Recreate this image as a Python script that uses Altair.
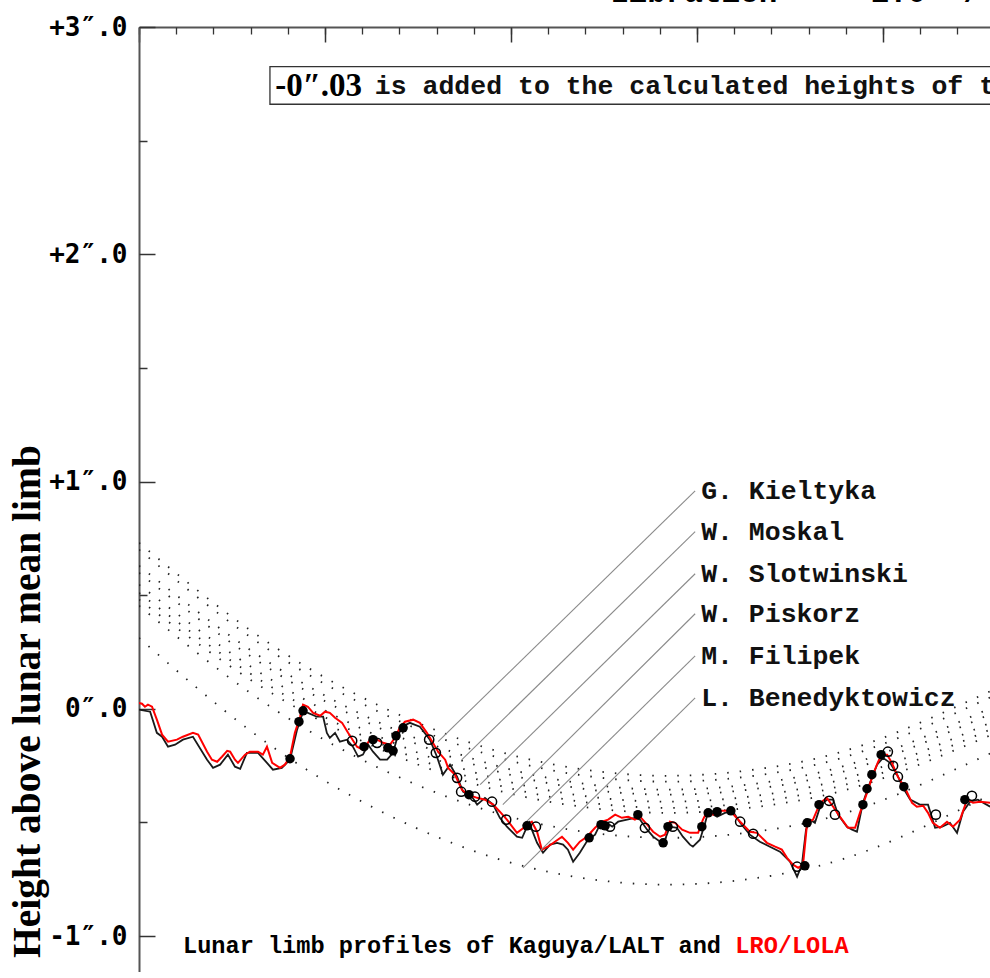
import altair as alt
import pandas as pd

# ---------------------------------------------------------------
# Graze profile: height above the lunar mean limb (arcsec) against
# position along the limb (top-axis minor tick = 1 unit).
# ---------------------------------------------------------------

# Kaguya / LALT limb profile (x, height)
kaguya = [
    (0.00, -0.004), (0.30, -0.013), (0.48, -0.106), (0.62, -0.123), (0.78, -0.167),
    (0.97, -0.158), (1.18, -0.136), (1.45, -0.123), (1.83, -0.224), (1.99, -0.260),
    (2.18, -0.246), (2.39, -0.202), (2.58, -0.255), (2.72, -0.264), (2.90, -0.194),
    (3.04, -0.194), (3.20, -0.194), (3.44, -0.238), (3.60, -0.268), (3.84, -0.260),
    (4.06, -0.224), (4.25, -0.092), (4.41, -0.013), (4.54, -0.018), (4.78, -0.035),
    (4.95, -0.035), (5.05, -0.106), (5.13, -0.128), (5.27, -0.106), (5.40, -0.145),
    (5.59, -0.136), (5.75, -0.167), (5.89, -0.211), (6.02, -0.202), (6.16, -0.158),
    (6.29, -0.189), (6.48, -0.224), (6.67, -0.224), (6.83, -0.194), (6.94, -0.128),
    (7.07, -0.079), (7.28, -0.062), (7.55, -0.079), (7.82, -0.136), (8.01, -0.211),
    (8.17, -0.290), (8.36, -0.246), (8.55, -0.299), (8.71, -0.365), (8.95, -0.387),
    (9.09, -0.422), (9.30, -0.392), (9.52, -0.422), (9.70, -0.480), (9.89, -0.519),
    (10.16, -0.563), (10.30, -0.568), (10.43, -0.519), (10.56, -0.532), (10.70, -0.590),
    (10.86, -0.634), (11.05, -0.598), (11.24, -0.590), (11.40, -0.598), (11.53, -0.620),
    (11.67, -0.673), (11.85, -0.634), (12.07, -0.576), (12.26, -0.554), (12.39, -0.510),
    (12.58, -0.502), (12.72, -0.519), (12.88, -0.497), (13.12, -0.488), (13.33, -0.480),
    (13.47, -0.488), (13.66, -0.532), (13.82, -0.563), (14.01, -0.585), (14.14, -0.576),
    (14.27, -0.519), (14.46, -0.524), (14.62, -0.563), (14.81, -0.598), (14.89, -0.607),
    (15.08, -0.576), (15.22, -0.502), (15.30, -0.453), (15.54, -0.475), (15.75, -0.458),
    (15.97, -0.453), (16.16, -0.502), (16.42, -0.554), (16.69, -0.585), (16.96, -0.607),
    (17.23, -0.629), (17.50, -0.673), (17.69, -0.739), (17.82, -0.686), (17.93, -0.532),
    (18.04, -0.488), (18.17, -0.502), (18.31, -0.431), (18.49, -0.400), (18.66, -0.400),
    (18.79, -0.466), (19.03, -0.519), (19.17, -0.532), (19.30, -0.541), (19.46, -0.414),
    (19.65, -0.326), (19.84, -0.246), (20.00, -0.216), (20.19, -0.238), (20.38, -0.290),
    (20.54, -0.348), (20.73, -0.400), (20.99, -0.422), (21.21, -0.422), (21.40, -0.524),
    (21.59, -0.519), (21.80, -0.502), (21.99, -0.546), (22.15, -0.453), (22.34, -0.409),
    (22.55, -0.400), (22.88, -0.431),
]

# LRO / LOLA limb profile (x, height)
lola = [
    (0.00, 0.026), (0.08, 0.022), (0.16, 0.009), (0.24, 0.018), (0.35, 0.009),
    (0.48, -0.048), (0.62, -0.114), (0.78, -0.145), (1.02, -0.136), (1.18, -0.123),
    (1.45, -0.106), (1.59, -0.114), (1.83, -0.189), (1.96, -0.224), (2.10, -0.233),
    (2.23, -0.211), (2.37, -0.185), (2.45, -0.189), (2.58, -0.224), (2.66, -0.238),
    (2.85, -0.202), (2.98, -0.189), (3.20, -0.189), (3.33, -0.202), (3.44, -0.167),
    (3.58, -0.238), (3.79, -0.260), (3.92, -0.246), (4.06, -0.211), (4.19, -0.106),
    (4.33, -0.035), (4.41, 0.018), (4.54, 0.009), (4.68, -0.018), (4.87, -0.031),
    (5.00, -0.013), (5.13, -0.018), (5.27, -0.040), (5.46, -0.062), (5.62, -0.106),
    (5.86, -0.167), (6.02, -0.180), (6.21, -0.136), (6.40, -0.136), (6.56, -0.150),
    (6.75, -0.158), (6.88, -0.128), (7.02, -0.079), (7.15, -0.057), (7.37, -0.048),
    (7.55, -0.062), (7.74, -0.106), (7.90, -0.150), (8.04, -0.189), (8.23, -0.224),
    (8.31, -0.260), (8.49, -0.290), (8.68, -0.356), (8.84, -0.378), (9.09, -0.392),
    (9.30, -0.400), (9.52, -0.422), (9.70, -0.453), (9.89, -0.488), (10.16, -0.546),
    (10.38, -0.519), (10.56, -0.497), (10.70, -0.541), (10.83, -0.620), (10.99, -0.607),
    (11.18, -0.585), (11.37, -0.563), (11.53, -0.590), (11.67, -0.620), (11.85, -0.585),
    (12.04, -0.563), (12.26, -0.524), (12.45, -0.497), (12.61, -0.488), (12.80, -0.466),
    (12.98, -0.480), (13.15, -0.475), (13.33, -0.488), (13.47, -0.475), (13.66, -0.510),
    (13.82, -0.541), (14.01, -0.563), (14.14, -0.554), (14.27, -0.497), (14.41, -0.502),
    (14.60, -0.532), (14.81, -0.546), (15.03, -0.546), (15.16, -0.488), (15.27, -0.453),
    (15.43, -0.466), (15.62, -0.449), (15.89, -0.449), (16.16, -0.497), (16.42, -0.541),
    (16.61, -0.546), (16.88, -0.590), (17.10, -0.607), (17.28, -0.620), (17.42, -0.656),
    (17.58, -0.686), (17.72, -0.700), (17.85, -0.686), (17.96, -0.502), (18.12, -0.488),
    (18.31, -0.414), (18.49, -0.392), (18.66, -0.431), (18.84, -0.475), (19.06, -0.524),
    (19.25, -0.524), (19.38, -0.458), (19.57, -0.370), (19.73, -0.290), (19.87, -0.233),
    (19.97, -0.202), (20.11, -0.202), (20.24, -0.238), (20.40, -0.299), (20.59, -0.348),
    (20.78, -0.414), (20.91, -0.431), (21.08, -0.427), (21.21, -0.458), (21.34, -0.502),
    (21.53, -0.524), (21.72, -0.497), (21.88, -0.519), (22.07, -0.488), (22.26, -0.400),
    (22.42, -0.414), (22.61, -0.409), (22.88, -0.414),
]

# Observed events: disappearances (filled) and reappearances (open)
disappear = [
    (4.06, -0.220), (4.30, -0.057), (4.41, -0.009), (6.05, -0.167), (6.29, -0.136),
    (6.69, -0.172), (6.83, -0.185), (6.91, -0.119), (7.10, -0.084), (8.87, -0.378),
    (10.43, -0.515), (12.10, -0.568), (12.42, -0.510), (12.53, -0.515), (13.41, -0.466),
    (14.09, -0.590), (14.22, -0.519), (15.13, -0.519), (15.30, -0.458), (15.54, -0.453),
    (15.91, -0.449), (17.90, -0.691), (17.96, -0.502), (18.28, -0.422), (19.46, -0.422),
    (19.57, -0.352), (19.70, -0.290), (19.95, -0.202), (20.56, -0.343), (22.20, -0.400),
]
reappear = [
    (5.73, -0.141), (6.40, -0.150), (7.80, -0.136), (7.98, -0.194), (8.55, -0.304),
    (8.66, -0.365), (9.03, -0.387), (9.49, -0.409), (9.87, -0.488), (10.67, -0.519),
    (12.66, -0.519), (13.60, -0.524), (14.35, -0.519), (16.16, -0.497), (16.51, -0.550),
    (17.69, -0.695), (18.55, -0.405), (18.71, -0.466), (20.13, -0.189), (20.27, -0.251),
    (20.40, -0.299), (21.42, -0.466), (22.39, -0.383),
]

# Observer tracks (dotted), heights at common x stations
track_x = [0.00, 2.98, 5.94, 8.90, 11.59, 14.27, 16.96, 19.65, 22.88]
tracks = {
    "t1": [0.730, 0.347, 0.055, -0.149, -0.258, -0.295, -0.258, -0.149, 0.077],
    "t2": [0.700, 0.317, 0.027, -0.176, -0.285, -0.321, -0.285, -0.176, 0.050],
    "t3": [0.629, 0.260, -0.021, -0.216, -0.321, -0.356, -0.321, -0.216, 0.002],
    "t4": [0.598, 0.233, -0.045, -0.240, -0.344, -0.378, -0.344, -0.240, -0.024],
    "t5": [0.546, 0.188, -0.084, -0.274, -0.375, -0.409, -0.375, -0.274, -0.062],
    "t6": [0.510, 0.156, -0.113, -0.301, -0.402, -0.436, -0.402, -0.301, -0.092],
    "t7": [0.480, 0.129, -0.138, -0.325, -0.424, -0.458, -0.424, -0.325, -0.117],
    "t8": [0.453, 0.071, -0.220, -0.423, -0.532, -0.568, -0.532, -0.423, -0.197],
    "t9": [0.312, -0.095, -0.404, -0.620, -0.736, -0.774, -0.736, -0.620, -0.380],
}

# Observers with their leader lines
observers = ["G. Kieltyka", "W. Moskal", "W. Slotwinski", "W. Piskorz",
             "M. Filipek", "L. Benedyktowicz"]
label_x = 14.95
label_y = [0.959, 0.779, 0.594, 0.418, 0.233, 0.048]
leader_end_x = [8.04, 8.68, 9.17, 9.78, 10.38, 10.32]
leader_end_y = [-0.145, -0.224, -0.334, -0.422, -0.502, -0.700]

# ---------------------------------------------------------------
W, H = 851, 945
x_scale = alt.Scale(domain=[0, 22.876], nice=False, zero=False)
y_scale = alt.Scale(domain=[-1.1584, 3.0], nice=False, zero=False)

NB = "\u00a0"  # non-breaking space keeps runs of blanks in SVG text

top_major = alt.Axis(orient="bottom", offset=-H, values=[0, 5, 10, 15, 20],
                     tickSize=15, tickWidth=1.5, tickColor="#333",
                     domain=True, domainColor="#555", domainWidth=2,
                     labels=False, grid=False, title=None)
top_minor = alt.Axis(orient="bottom", offset=-H, values=list(range(0, 23)),
                     tickSize=7, tickWidth=1.3, tickColor="#333",
                     domain=False, labels=False, grid=False, title=None)
left_labels = alt.Axis(
    orient="left", values=[-1, 0, 1, 2, 3], ticks=False,
    domain=True, domainColor="#555", domainWidth=2, grid=False,
    labelExpr=("datum.value == 0 ? '0\u2033.0' : "
               "(datum.value > 0 ? '+' : '-') + abs(datum.value) + '\u2033.0'"),
    labelFont="DejaVu Sans Mono", labelFontSize=26, labelFontWeight="bold",
    labelColor="black", labelPadding=12, labelBaseline="middle",
    title="Height above lunar mean limb", titleFont="Liberation Serif",
    titleFontSize=39.5, titleFontWeight="bold", titleColor="black",
    titleAngle=270, titleX=-112, titleY=674, titleAlign="center",
    titleBaseline="middle",
)
left_major = alt.Axis(orient="right", offset=-W, values=[-1, 0, 1, 2, 3],
                      tickSize=16, tickWidth=1.5, tickColor="#333",
                      domain=False, labels=False, grid=False, title=None)
left_minor = alt.Axis(orient="right", offset=-W, values=[-0.5, 0.5, 1.5, 2.5],
                      tickSize=8, tickWidth=1.5, tickColor="#333",
                      domain=False, labels=False, grid=False, title=None)

# --- data frames ---
kag_df = pd.DataFrame(kaguya, columns=["x", "h"])
lola_df = pd.DataFrame(lola, columns=["x", "h"])
dis_df = pd.DataFrame(disappear, columns=["x", "h"])
rea_df = pd.DataFrame(reappear, columns=["x", "h"])
trk_df = pd.DataFrame([
    {"track": k, "x": xv, "h": hv}
    for k, hs in tracks.items() for xv, hv in zip(track_x, hs)
])
obs_df = pd.DataFrame({
    "name": observers, "x": [label_x] * len(observers), "y": label_y,
    "x2": leader_end_x, "y2": leader_end_y,
})

# dotted observer tracks
track_layer = alt.Chart(trk_df).mark_line(
    color="#222", strokeWidth=1.8, strokeDash=[1.5, 11], interpolate="natural",
    clip=True,
).encode(
    x=alt.X("x:Q", scale=x_scale, axis=top_major),
    y=alt.Y("h:Q", scale=y_scale, axis=left_labels),
    detail="track:N",
)

kag_layer = alt.Chart(kag_df).mark_line(color="#1a1a1a", strokeWidth=1.8, clip=True).encode(
    x=alt.X("x:Q", scale=x_scale, axis=top_minor),
    y=alt.Y("h:Q", scale=y_scale, axis=left_major),
)

lola_layer = alt.Chart(lola_df).mark_line(color="#ff0000", strokeWidth=2.0, clip=True).encode(
    x=alt.X("x:Q", scale=x_scale, axis=None),
    y=alt.Y("h:Q", scale=y_scale, axis=left_minor),
)

leader_layer = alt.Chart(obs_df).mark_rule(color="#8a8a8a", strokeWidth=1.1).encode(
    x=alt.X("x:Q", scale=x_scale, axis=None),
    y=alt.Y("y:Q", scale=y_scale, axis=None),
    x2="x2:Q", y2="y2:Q",
)

name_layer = alt.Chart(obs_df).mark_text(
    align="left", baseline="middle", dx=6, font="Liberation Mono",
    fontWeight="bold", fontSize=26.5, color="#111",
).encode(
    x=alt.X("x:Q", scale=x_scale, axis=None),
    y=alt.Y("y:Q", scale=y_scale, axis=None),
    text="name:N",
)

dis_layer = alt.Chart(dis_df).mark_point(
    shape="circle", filled=True, size=90, color="black", opacity=1,
).encode(
    x=alt.X("x:Q", scale=x_scale, axis=None),
    y=alt.Y("h:Q", scale=y_scale, axis=None),
)

rea_layer = alt.Chart(rea_df).mark_point(
    shape="circle", filled=False, size=85, color="black", strokeWidth=1.5, opacity=1,
).encode(
    x=alt.X("x:Q", scale=x_scale, axis=None),
    y=alt.Y("h:Q", scale=y_scale, axis=None),
)

# boxed note near the top
note_box = alt.Chart(pd.DataFrame({"x": [3.52], "x2": [23.5], "y": [2.826], "y2": [2.66]})).mark_rect(
    fill="white", stroke="#333", strokeWidth=1.3, clip=True,
).encode(
    x=alt.X("x:Q", scale=x_scale, axis=None), x2="x2:Q",
    y=alt.Y("y:Q", scale=y_scale, axis=None), y2="y2:Q",
)
note_value = alt.Chart(pd.DataFrame({"x": [3.66], "y": [2.742], "t": ["-0\u2033.03"]})).mark_text(
    align="left", baseline="middle", font="Liberation Serif", fontWeight="bold",
    fontSize=33, color="black", clip=True,
).encode(
    x=alt.X("x:Q", scale=x_scale, axis=None),
    y=alt.Y("y:Q", scale=y_scale, axis=None),
    text="t:N",
)
note_text = alt.Chart(pd.DataFrame({"x": [6.34], "y": [2.742],
                                    "t": ["is added to the calculated heights of the"]})).mark_text(
    align="left", baseline="middle", font="Liberation Mono", fontWeight="bold",
    fontSize=26.5, color="#111", clip=True,
).encode(
    x=alt.X("x:Q", scale=x_scale, axis=None),
    y=alt.Y("y:Q", scale=y_scale, axis=None),
    text="t:N",
)

# heading line above the frame (only its lower edge falls on the page)
heading_text = "Libration" + NB * 5 + "1.0" + NB * 2 + "/"
heading = alt.Chart(pd.DataFrame({"x": [12.66], "y": [3.110], "t": [heading_text]})).mark_text(
    align="left", baseline="alphabetic", font="Liberation Mono", fontWeight="bold",
    fontSize=31, color="black",
).encode(
    x=alt.X("x:Q", scale=x_scale, axis=None),
    y=alt.Y("y:Q", scale=y_scale, axis=None),
    text="t:N",
)

# caption inside the frame
caption = alt.Chart(pd.DataFrame({
    "x": [1.183, 16.03], "y": [-1.043, -1.043],
    "t": ["Lunar limb profiles of Kaguya/LALT and", "LRO/LOLA"],
    "c": ["black", "red"],
})).mark_text(
    align="left", baseline="middle", font="Liberation Mono", fontWeight="bold",
    fontSize=23.6,
).encode(
    x=alt.X("x:Q", scale=x_scale, axis=None),
    y=alt.Y("y:Q", scale=y_scale, axis=None),
    text="t:N",
    color=alt.Color("c:N", scale=None),
)

chart = alt.layer(
    track_layer, kag_layer, lola_layer, leader_layer, name_layer,
    dis_layer, rea_layer, note_box, note_value, note_text, heading, caption,
).resolve_axis(
    x="independent", y="independent",
).properties(
    width=W, height=H,
    autosize=alt.AutoSizeParams(type="none"),
    padding={"left": 139, "top": 27, "right": 0, "bottom": 0},
    background="white",
).configure_view(stroke=None)

chart.save("out.html", embed_options={"renderer": "svg", "actions": False})
